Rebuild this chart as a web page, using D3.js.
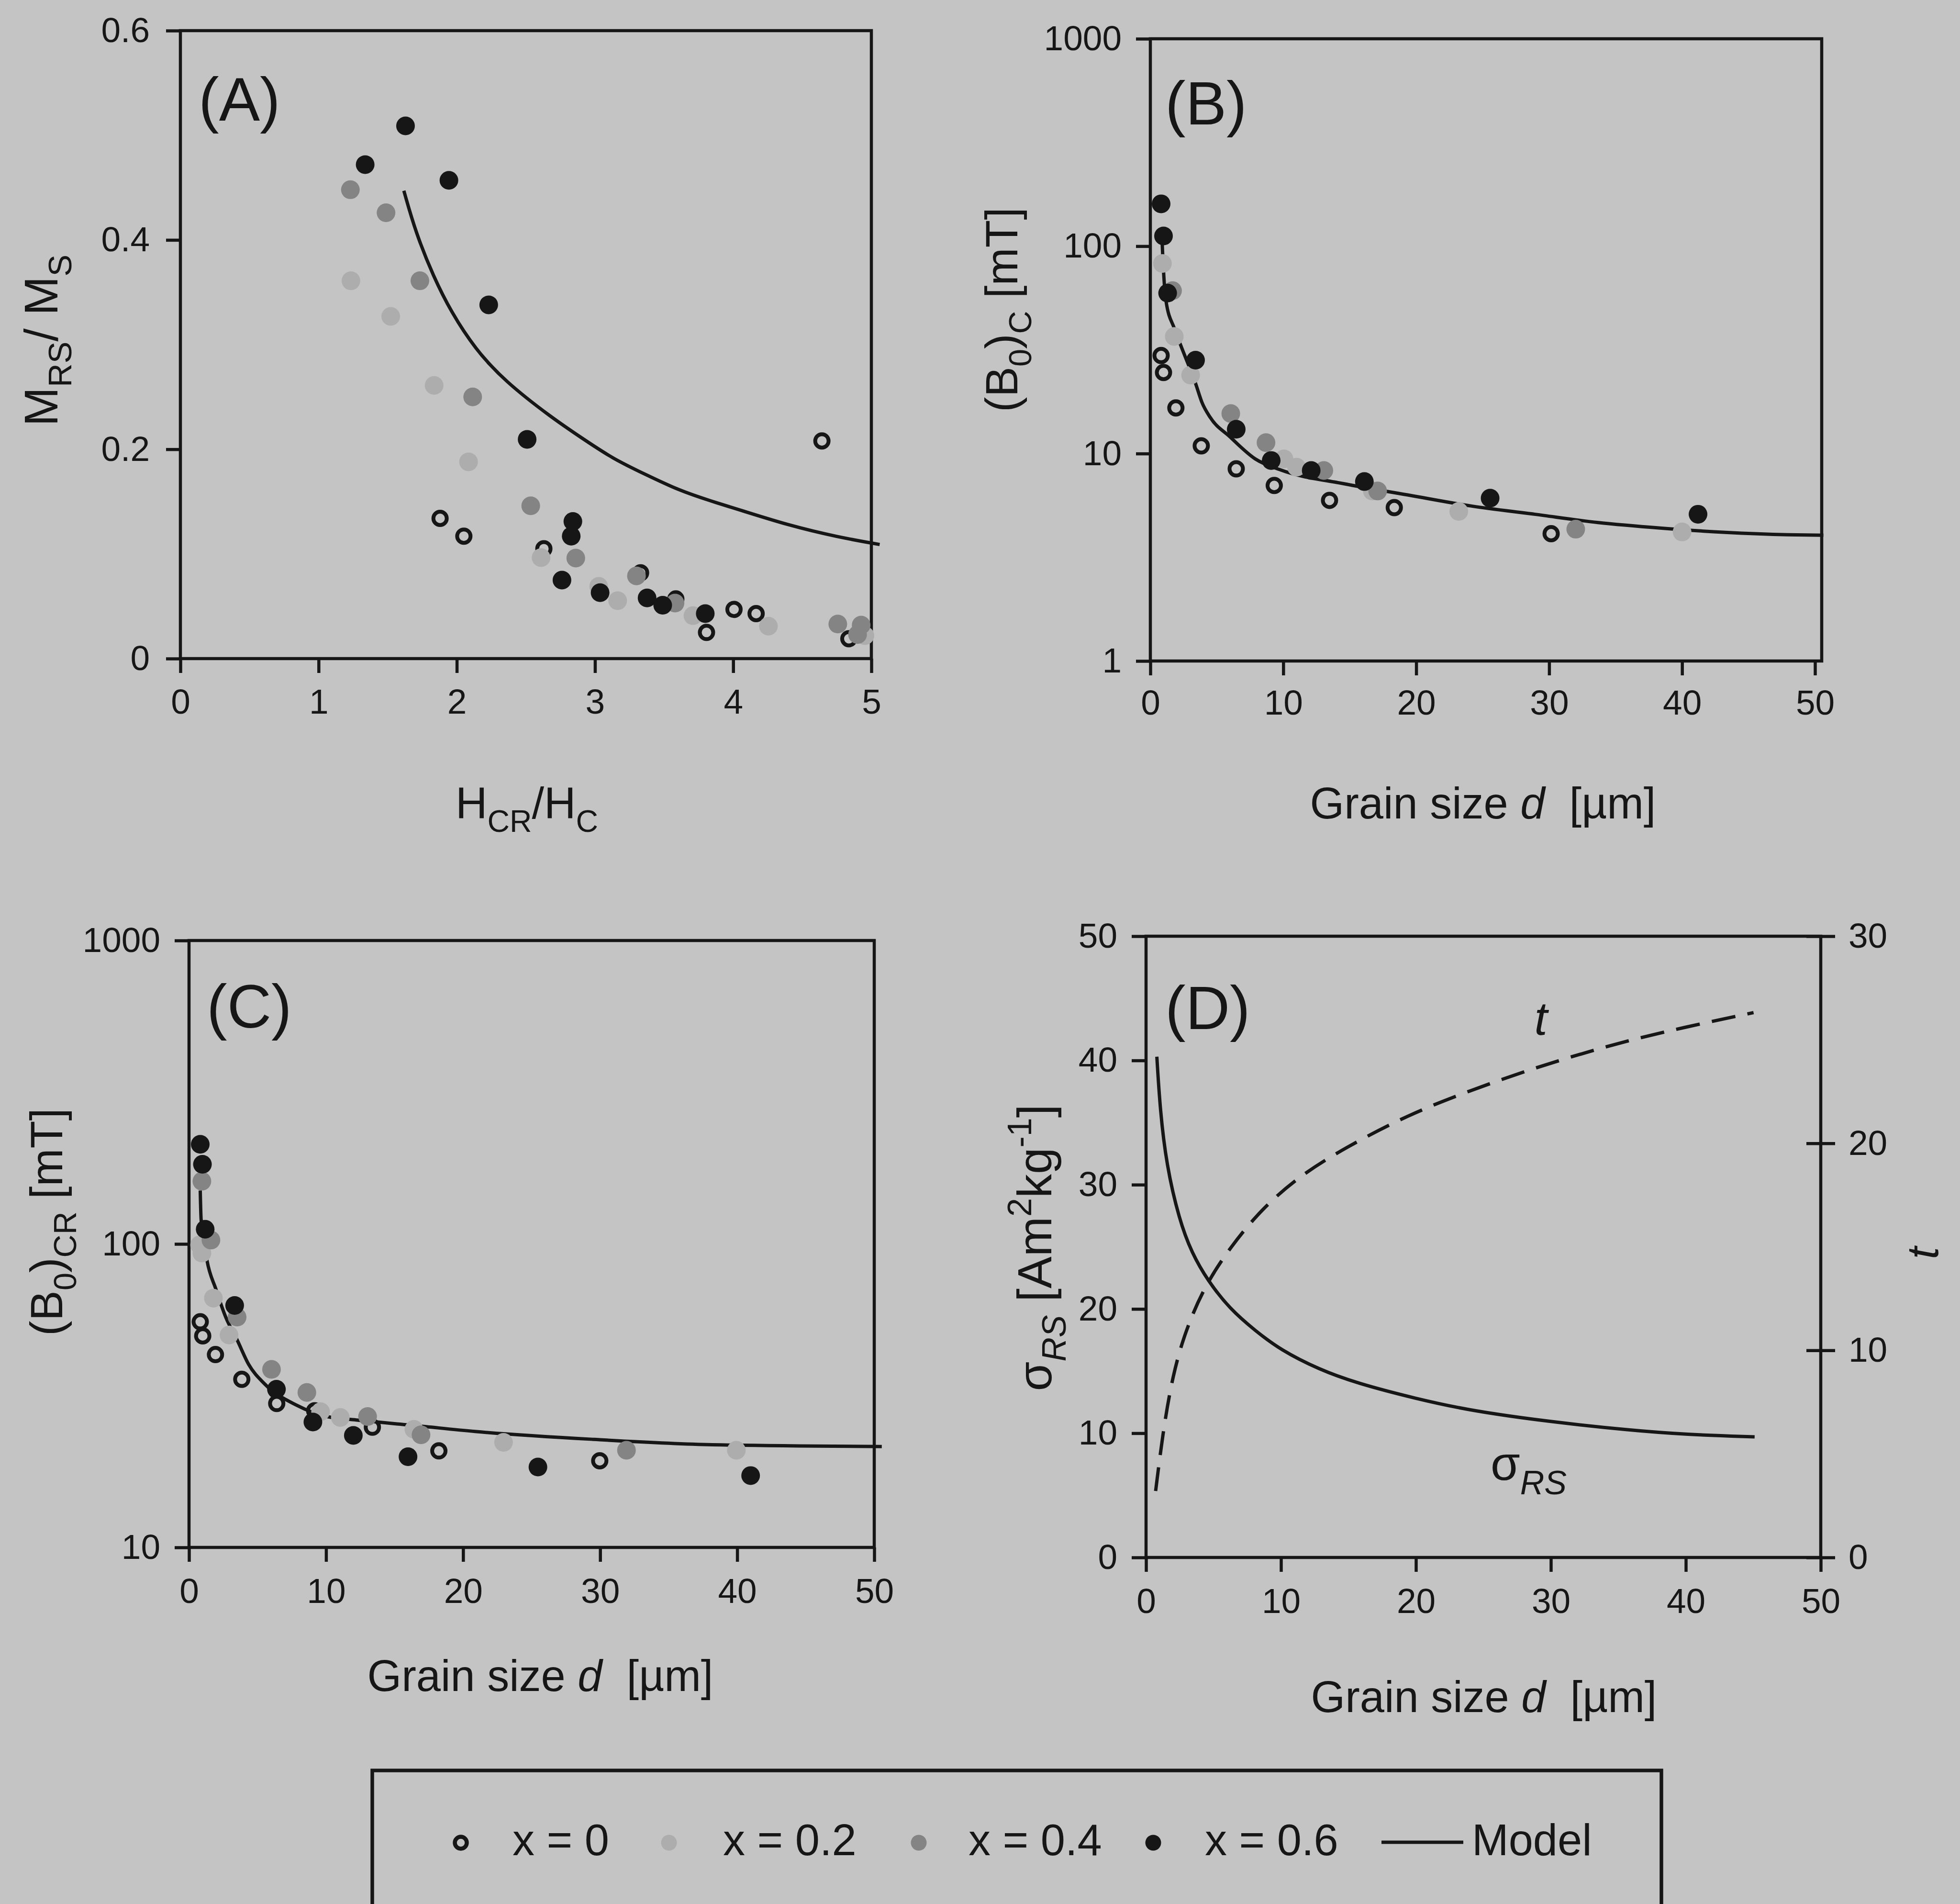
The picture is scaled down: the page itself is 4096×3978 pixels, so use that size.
<!DOCTYPE html>
<html>
<head>
<meta charset="utf-8">
<script src="https://cdn.jsdelivr.net/npm/d3@7"></script>
<style>
  html, body { margin: 0; padding: 0; background: #c4c4c4; }
  svg { display: block; }
  text { white-space: pre; }
</style>
</head>
<body>
<div class="fig"></div>
<script>
// ---- data ----
// panel A: [Hcr/Hc, Mrs/Ms]
var aX0  = [[1.879,0.134],[2.051,0.117],[2.630,0.105],[3.330,0.082],[3.585,0.057],[3.807,0.025],
            [4.006,0.047],[4.166,0.043],[4.642,0.208],[4.837,0.019]];
var aX02 = [[1.234,0.361],[1.522,0.327],[1.836,0.261],[2.085,0.188],[2.610,0.0965],[3.027,0.069],
            [3.164,0.0553],[3.709,0.041],[4.255,0.031],[4.953,0.022]];
var aX04 = [[1.230,0.448],[1.488,0.426],[1.733,0.361],[2.115,0.250],[2.535,0.146],[2.861,0.096],
            [3.300,0.079],[3.579,0.053],[4.757,0.033],[4.900,0.023],[4.926,0.032]];
var aX06 = [[1.337,0.472],[1.629,0.509],[1.943,0.457],[2.231,0.338],[2.509,0.2095],[2.840,0.131],
            [2.828,0.117],[2.761,0.075],[3.037,0.063],[3.377,0.058],[3.490,0.051],[3.798,0.043]];
var aModel = [[1.617,0.447],[1.703,0.407],[1.831,0.365],[1.960,0.331],[2.132,0.296],[2.347,0.265],
              [2.689,0.230],[2.891,0.212],[3.128,0.191],[3.365,0.176],[3.602,0.161],[3.839,0.1505],
              [4.040,0.1424],[4.401,0.1273],[4.757,0.1161],[5.060,0.109]];

// panel B: [d um, (B0)c mT]
var bX0  = [[0.81,29.7],[0.99,24.6],[1.92,16.6],[3.83,10.9],[6.46,8.44],[9.32,7.02],[13.48,5.95],
            [18.35,5.49],[30.15,4.11]];
var bX02 = [[0.91,82.5],[1.80,36.7],[3.03,23.9],[10.05,9.43],[11.0,8.6],[16.7,6.6],[23.2,5.26],[40.0,4.19]];
var bX04 = [[1.67,61],[6.05,15.6],[8.7,11.3],[13.05,8.29],[17.1,6.6],[32.0,4.32]];
var bX06 = [[0.81,160],[0.99,112],[1.30,59.4],[3.40,28.2],[6.46,13.1],[9.09,9.26],[12.1,8.29],
            [16.1,7.33],[25.56,6.10],[41.2,5.10]];
var bModel = [[0.88,108],[0.91,97],[1.18,54.3],[1.80,40.2],[2.29,33.2],[3.40,21.8],[3.89,17.6],
              [4.5,14.95],[5.98,12.06],[7.89,9.43],[9.8,8.34],[14.58,7.15],[19.35,6.32],[24.13,5.59],
              [28.9,5.1],[33.68,4.65],[38.46,4.37],[43.23,4.17],[48.0,4.06],[50.63,4.04]];

// panel C: [d um, (B0)cr mT]
var cX0  = [[0.82,55.4],[1.0,49.8],[1.93,43.2],[3.85,35.8],[6.4,29.8],[9.17,28.2],[13.38,24.9],
            [18.23,20.8],[29.97,19.3]];
var cX02 = [[0.77,99.3],[0.94,93.3],[1.78,66.3],[2.92,50.1],[9.6,28],[11.04,26.8],[16.41,24.5],
            [22.95,22.2],[39.94,20.9]];
var cX04 = [[0.94,161],[1.60,103],[3.51,57.4],[6.02,38.6],[8.6,32.4],[13.03,27.0],[16.93,23.5],[31.92,20.9]];
var cX06 = [[0.82,213],[0.98,183],[1.18,111.8],[3.33,62.7],[6.38,33.2],[9.04,25.9],[11.99,23.4],
            [15.98,19.9],[25.46,18.4],[40.98,17.25]];
var cModel = [[0.82,150],[0.88,121],[1.30,88.8],[1.96,71],[2.68,57.4],[3.51,48.3],[4.35,40.1],
              [5.54,34.5],[7.87,29.4],[10.04,27.0],[12.2,26.3],[16.54,25.2],[20.87,24.1],[29.54,22.7],
              [38.2,21.8],[50.55,21.5]];

// panel D: [d um, sigma_RS] and [d um, t]
var dSigma = [[0.80,40.3],[1.04,36.06],[1.51,31.6],[2.45,27.2],[3.39,24.5],[4.56,22.3],[6.21,20.0],
              [8.09,18.25],[9.97,16.7],[12.8,15.14],[15.6,14.03],[20.0,12.78],[24.09,11.8],[30.0,10.91],
              [35.85,10.24],[39.99,9.89],[45.1,9.71]];
var dT = [[0.71,3.21],[1.27,6.14],[1.98,8.82],[2.92,10.95],[4.33,13.09],[6.21,14.96],[8.56,16.83],
          [11.39,18.43],[14.68,19.76],[19.38,21.37],[24.09,22.57],[28.79,23.64],[33.5,24.57],
          [38.2,25.37],[45.02,26.31]];

var ticksA_x = [0,1,2,3,4,5];
var ticksA_y = [0,0.2,0.4,0.6];
var ticksD   = [0,10,20,30,40,50];
var ticksLog = [1,10,100,1000];
var ticksT   = [0,10,20,30];
var legendItems = ["x = 0","x = 0.2","x = 0.4","x = 0.6","Model"];

// ---- drawing ----
var FONT = "'Liberation Sans', Arial, Helvetica, sans-serif";
var INK = "#161616";
var AXW = 6.5;
var styles = {
    open:  {fill: "none", stroke: INK, sw: 8, r: 14},
    light: {fill: "#adadad", stroke: "none", sw: 0, r: 19.5},
    mid:   {fill: "#848484", stroke: "none", sw: 0, r: 19.5},
    black: {fill: INK, stroke: "none", sw: 0, r: 19.5}
};

var svg = d3.select(".fig").append("svg")
    .attr("width", 4096).attr("height", 3978)
    .attr("font-family", FONT).attr("fill", INK);

svg.append("rect").attr("width", 4096).attr("height", 3978).attr("fill", "#c4c4c4");

var rich = function(text, parts, fs) {
    var shift = 0;
    parts.forEach(function(p) {
        var target = p.sub ? 0.3 * fs : (p.sup ? -0.42 * fs : 0);
        var ts = text.append("tspan").text(p.t).attr("dy", target - shift);
        if (p.sub || p.sup) ts.attr("font-size", 0.7 * fs);
        if (p.it) ts.attr("font-style", "italic");
        shift = target;
    });
    return text;
};

var styleAxis = function(g) {
    g.select(".domain").remove();
    g.selectAll(".tick line").attr("stroke", INK).attr("stroke-width", AXW);
    g.selectAll(".tick text").attr("font-size", 73).attr("font-family", FONT).attr("fill", INK);
};

var frame = function(box) {
    svg.append("rect")
        .attr("x", box.x0).attr("y", box.y0)
        .attr("width", box.fr - box.x0).attr("height", box.y1 - box.y0)
        .attr("fill", "none").attr("stroke", INK).attr("stroke-width", AXW);
};

var points = function(data, st, xs, ys) {
    svg.append("g").selectAll("circle").data(data).enter().append("circle")
        .attr("cx", function(d) { return xs(d[0]); })
        .attr("cy", function(d) { return ys(d[1]); })
        .attr("r", st.r)
        .attr("fill", st.fill)
        .attr("stroke", st.stroke)
        .attr("stroke-width", st.sw);
};

var curve = function(data, xs, ys, shape, dash) {
    var line = d3.line()
        .x(function(d) { return xs(d[0]); })
        .y(function(d) { return ys(d[1]); })
        .curve(shape);
    svg.append("path").attr("d", line(data))
        .attr("fill", "none").attr("stroke", INK).attr("stroke-width", 7)
        .attr("stroke-dasharray", dash || null);
};

var panelLetter = function(txt, x, y) {
    svg.append("text").attr("x", x).attr("y", y).attr("font-size", 128).text(txt);
};

var xTitle = function(parts, cx, y, fs) {
    rich(svg.append("text").attr("x", cx).attr("y", y)
        .attr("text-anchor", "middle").attr("font-size", fs), parts, fs);
};

var yTitle = function(parts, x, cy, fs) {
    rich(svg.append("text").attr("transform", "translate(" + x + "," + cy + ") rotate(-90)")
        .attr("text-anchor", "middle").attr("font-size", fs), parts, fs);
};

var allSeries = function(s, xs, ys) {
    points(s[0], styles.open, xs, ys);
    points(s[1], styles.light, xs, ys);
    points(s[2], styles.mid, xs, ys);
    points(s[3], styles.black, xs, ys);
};

var grainTitle = [{t: "Grain size "}, {t: "d", it: true}, {t: "  [\u00b5m]"}];

// panel A
var boxA = {x0: 377, x1: 1821, fr: 1821, y0: 64, y1: 1376};
var xA = d3.scaleLinear().domain([0, 5]).range([boxA.x0, boxA.x1]);
var yA = d3.scaleLinear().domain([0, 0.6]).range([boxA.y1, boxA.y0]);
svg.append("g").attr("transform", "translate(0," + boxA.y1 + ")")
    .call(d3.axisBottom(xA).tickValues(ticksA_x).tickSize(30).tickPadding(33).tickFormat(d3.format("d")))
    .call(styleAxis);
svg.append("g").attr("transform", "translate(" + boxA.x0 + ",0)")
    .call(d3.axisLeft(yA).tickValues(ticksA_y).tickSize(30).tickPadding(34)
        .tickFormat(function(d) { return d === 0 ? "0" : d3.format(".1f")(d); }))
    .call(styleAxis);
frame(boxA);
curve(aModel, xA, yA, d3.curveBasis);
allSeries([aX0, aX02, aX04, aX06], xA, yA);
panelLetter("(A)", 415, 252);
xTitle([{t: "H"}, {t: "CR", sub: true}, {t: "/H"}, {t: "C", sub: true}], 1101, 1710, 92);
yTitle([{t: "M"}, {t: "RS", sub: true}, {t: "/ M"}, {t: "S", sub: true}], 120, 711, 98);

// panel B
var boxB = {x0: 2404, x1: 3793, fr: 3807, y0: 81, y1: 1381};
var xB = d3.scaleLinear().domain([0, 50]).range([boxB.x0, boxB.x1]);
var yB = d3.scaleLog().domain([1, 1000]).range([boxB.y1, boxB.y0]);
svg.append("g").attr("transform", "translate(0," + boxB.y1 + ")")
    .call(d3.axisBottom(xB).tickValues(ticksD).tickSize(30).tickPadding(30))
    .call(styleAxis);
svg.append("g").attr("transform", "translate(" + boxB.x0 + ",0)")
    .call(d3.axisLeft(yB).tickValues(ticksLog).tickSize(30).tickPadding(30).tickFormat(d3.format("d")))
    .call(styleAxis);
frame(boxB);
curve(bModel, xB, yB, d3.curveMonotoneX);
allSeries([bX0, bX02, bX04, bX06], xB, yB);
panelLetter("(B)", 2435, 260);
xTitle(grainTitle, 3099, 1710, 92);
yTitle([{t: "(B"}, {t: "0", sub: true}, {t: ")"}, {t: "C", sub: true}, {t: " [mT]"}], 2126, 647, 95);

// panel C
var boxC = {x0: 395, x1: 1827, fr: 1827, y0: 1965, y1: 3233};
var xC = d3.scaleLinear().domain([0, 50]).range([boxC.x0, boxC.x1]);
var yC = d3.scaleLog().domain([10, 1000]).range([boxC.y1, boxC.y0]);
svg.append("g").attr("transform", "translate(0," + boxC.y1 + ")")
    .call(d3.axisBottom(xC).tickValues(ticksD).tickSize(30).tickPadding(34))
    .call(styleAxis);
svg.append("g").attr("transform", "translate(" + boxC.x0 + ",0)")
    .call(d3.axisLeft(yC).tickValues(ticksLog.slice(1)).tickSize(30).tickPadding(30).tickFormat(d3.format("d")))
    .call(styleAxis);
frame(boxC);
curve(cModel, xC, yC, d3.curveMonotoneX);
allSeries([cX0, cX02, cX04, cX06], xC, yC);
panelLetter("(C)", 432, 2147);
xTitle(grainTitle, 1129, 3533, 92);
yTitle([{t: "(B"}, {t: "0", sub: true}, {t: ")"}, {t: "CR", sub: true}, {t: " [mT]"}], 130, 2553, 95);

// panel D
var boxD = {x0: 2395, x1: 3805, fr: 3805, y0: 1956, y1: 3254};
var xD = d3.scaleLinear().domain([0, 50]).range([boxD.x0, boxD.x1]);
var yD = d3.scaleLinear().domain([0, 50]).range([boxD.y1, boxD.y0]);
var yT = d3.scaleLinear().domain([0, 30]).range([boxD.y1, boxD.y0]);
svg.append("g").attr("transform", "translate(0," + boxD.y1 + ")")
    .call(d3.axisBottom(xD).tickValues(ticksD).tickSize(30).tickPadding(34))
    .call(styleAxis);
svg.append("g").attr("transform", "translate(" + boxD.x0 + ",0)")
    .call(d3.axisLeft(yD).tickValues(ticksD).tickSize(30).tickPadding(30))
    .call(styleAxis);
svg.append("g").attr("transform", "translate(" + boxD.fr + ",0)")
    .call(d3.axisRight(yT).tickValues(ticksT).tickSize(30).tickPadding(28))
    .call(styleAxis)
    .selectAll(".tick line").attr("x1", -30);
frame(boxD);
curve(dSigma, xD, yD, d3.curveBasis);
curve(dT, xD, yT, d3.curveBasis, "50,26");
panelLetter("(D)", 2435, 2150);
xTitle(grainTitle, 3101, 3577, 92);
yTitle([{t: "\u03c3"}, {t: "RS", sub: true, it: true}, {t: " [Am"}, {t: "2", sup: true}, {t: "kg"},
        {t: "-1", sup: true}, {t: "]"}], 2197, 2607, 100);
yTitle([{t: "t", it: true}], 4050, 2618, 92);
svg.append("text").attr("x", 3220).attr("y", 2162).attr("text-anchor", "middle")
    .attr("font-size", 98).attr("font-style", "italic").text("t");
rich(svg.append("text").attr("x", 3115).attr("y", 3092).attr("font-size", 100),
    [{t: "\u03c3"}, {t: "RS", sub: true, it: true}], 100);

// legend
svg.append("rect").attr("x", 778).attr("y", 3699).attr("width", 2694).attr("height", 420)
    .attr("fill", "none").attr("stroke", INK).attr("stroke-width", 7.5);
var legY = 3850;
var legMarks = [
    {cx: 963,  st: {fill: "none", stroke: INK, sw: 8.5, r: 12.5}},
    {cx: 1398, st: {fill: styles.light.fill, stroke: "none", sw: 0, r: 16.5}},
    {cx: 1920, st: {fill: styles.mid.fill, stroke: "none", sw: 0, r: 16.5}},
    {cx: 2410, st: {fill: INK, stroke: "none", sw: 0, r: 16.5}}
];
var legTextX = [1071, 1511, 2024, 2518, 3076];
legMarks.forEach(function(m) {
    svg.append("circle").attr("cx", m.cx).attr("cy", legY).attr("r", m.st.r)
        .attr("fill", m.st.fill).attr("stroke", m.st.stroke).attr("stroke-width", m.st.sw);
});
svg.append("line").attr("x1", 2887).attr("x2", 3058).attr("y1", legY - 1).attr("y2", legY - 1)
    .attr("stroke", INK).attr("stroke-width", 7);
legendItems.forEach(function(t, i) {
    svg.append("text").attr("x", legTextX[i]).attr("y", 3876).attr("font-size", 92).text(t);
});
</script>
</body>
</html>
